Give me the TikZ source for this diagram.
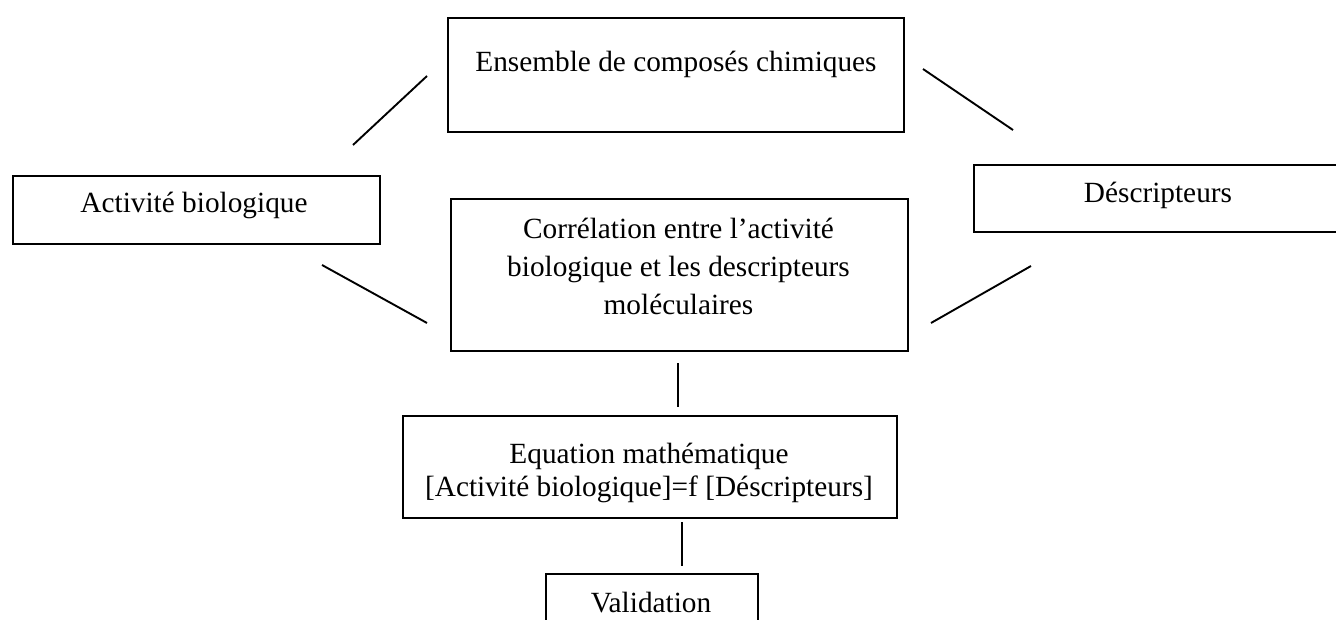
\documentclass[tikz,border=0pt]{standalone}
\usepackage{fontspec}
\setmainfont{Liberation Serif}
\begin{document}
\begin{tikzpicture}[x=1pt,y=-1pt,
  boxline/.style={draw=black,line width=2pt,inner sep=0pt,anchor=north west},
  link/.style={draw=black,line width=1.9pt},
  txt/.style={inner sep=0pt,anchor=base,font=\fontsize{29.3}{36}\selectfont}]
\useasboundingbox (0,0) rectangle (1336,620);
\fill[white] (0,0) rectangle (1336,620);

% boxes
\node[boxline,minimum width=456pt,minimum height=114pt] (top) at (447,17) {};
\node[boxline,minimum width=367pt,minimum height=68pt] (act) at (12,175) {};
\node[boxline,minimum width=380pt,minimum height=67pt] (desc) at (973,164) {};
\node[boxline,minimum width=457pt,minimum height=152pt] (corr) at (450,198) {};
\node[boxline,minimum width=494pt,minimum height=102pt] (eq) at (402,415) {};
\node[boxline,minimum width=212pt,minimum height=60pt] (val) at (545,573) {};

% texts
\node[txt] (ttop) at (676,72) {Ensemble de composés chimiques};
\node[txt] (tact) at (194,213) {Activité biologique};
\node[txt] (tdesc) at (1158,203) {Déscripteurs};
\node[txt] (tcorr1) at (678.5,239) {Corrélation entre l’activité};
\node[txt] (tcorr2) at (678.5,277) {biologique et les descripteurs};
\node[txt] (tcorr3) at (678.5,315) {moléculaires};
\node[txt] (teq1) at (649,463) {Equation mathématique};
\node[txt] (teq2) at (649,496) {[Activité biologique]=f [Déscripteurs]};
\node[txt] (tval) at (651,612) {Validation};

% connector end points
\coordinate (a1) at (353,145); \coordinate (a2) at (427,76);
\coordinate (b1) at (923,69);  \coordinate (b2) at (1013,130);
\coordinate (c1) at (322,265); \coordinate (c2) at (427,323);
\coordinate (d1) at (1031,266); \coordinate (d2) at (931,323);
\coordinate (e1) at (678,363); \coordinate (e2) at (678,407);
\coordinate (f1) at (682,522); \coordinate (f2) at (682,566);

\draw[link] (a1) -- (a2);
\draw[link] (b1) -- (b2);
\draw[link] (c1) -- (c2);
\draw[link] (d1) -- (d2);
\draw[link] (e1) -- (e2);
\draw[link] (f1) -- (f2);
\end{tikzpicture}
\end{document}
